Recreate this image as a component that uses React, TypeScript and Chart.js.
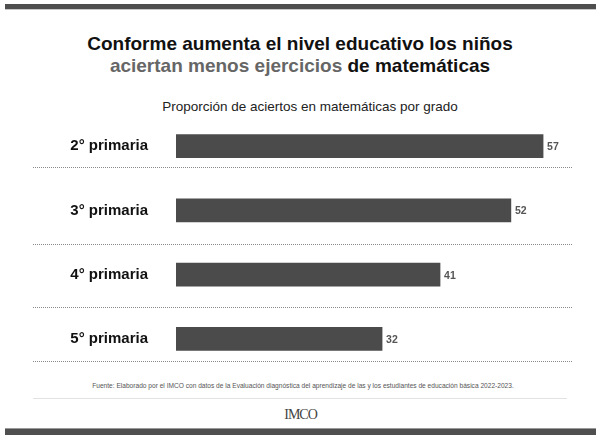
import React, { useEffect, useRef } from "react";
import { Chart, registerables } from "chart.js";

Chart.register(...registerables);

const categories: string[] = ["2° primaria", "3° primaria", "4° primaria", "5° primaria"];
const values: number[] = [57, 52, 41, 32];
const xMax = 60;

const SANS = "'Liberation Sans', Arial, Helvetica, sans-serif";

const separatorPlugin = {
  id: "separators",
  afterDatasetsDraw(chart: any) {
    const { ctx } = chart;
    const y = chart.scales.y;
    const step = y.getPixelForValue(1) - y.getPixelForValue(0);
    const frac = [0.32, 0.52, 0.51, 0.34];
    ctx.save();
    ctx.strokeStyle = "#8a8a8a";
    ctx.lineWidth = 1;
    ctx.setLineDash([1, 1]);
    categories.forEach((_, i) => {
      const py = Math.round(y.getPixelForValue(i) + frac[i] * step) + 0.5;
      ctx.beginPath();
      ctx.moveTo(33, py);
      ctx.lineTo(572, py);
      ctx.stroke();
    });
    ctx.restore();
  },
};

const valueLabelPlugin = {
  id: "valueLabels",
  afterDatasetsDraw(chart: any) {
    const { ctx } = chart;
    const meta = chart.getDatasetMeta(0);
    ctx.save();
    ctx.font = `bold 10.5px ${SANS}`;
    ctx.fillStyle = "#555555";
    ctx.textAlign = "left";
    ctx.textBaseline = "middle";
    meta.data.forEach((bar: any, i: number) => {
      ctx.fillText(String(values[i]), bar.x + 4, bar.y + 1);
    });
    ctx.restore();
  },
};

function BarChart() {
  const ref = useRef<HTMLCanvasElement | null>(null);
  useEffect(() => {
    if (!ref.current) return;
    const chart = new Chart(ref.current, {
      type: "bar",
      data: {
        labels: categories,
        datasets: [
          {
            data: values,
            backgroundColor: "#4b4b4b",
            barThickness: 23,
            borderWidth: 0,
          },
        ],
      },
      options: {
        indexAxis: "y",
        animation: false,
        responsive: true,
        maintainAspectRatio: false,
        devicePixelRatio: 1,
        layout: { padding: { top: 4, bottom: 9, left: 0, right: 38.6 } },
        plugins: {
          legend: { display: false },
          title: { display: false },
          tooltip: { enabled: false },
        },
        scales: {
          x: {
            display: false,
            min: 0,
            max: xMax,
          },
          y: {
            grid: { display: false, drawTicks: false },
            border: { display: false },
            ticks: {
              padding: 28,
              color: "#111111",
              font: { family: SANS, size: 15, weight: "bold" },
            },
            afterFit(scale: any) {
              scale.width = 176;
              scale.paddingTop = 0;
              scale.paddingBottom = 0;
            },
          },
        },
      },
      plugins: [separatorPlugin, valueLabelPlugin],
    });
    return () => chart.destroy();
  }, []);
  return (
    <div style={{ position: "relative", width: 601, height: 270 }}>
      <canvas ref={ref} />
    </div>
  );
}

export default function App() {
  return (
    <div
      style={{
        position: "fixed",
        left: 0,
        top: 0,
        width: 601,
        height: 441,
        background: "#ffffff",
        overflow: "hidden",
        fontFamily: SANS,
      }}
    >
      <div
        style={{
          position: "absolute",
          left: 5,
          top: 4,
          width: 591,
          height: 5,
          background: "#4f4f4f",
          borderBottom: "1px solid #c8c8c8",
        }}
      />
      <div
        style={{
          position: "absolute",
          left: 0,
          top: 33,
          width: 600,
          textAlign: "center",
          fontWeight: "bold",
          fontSize: 19,
          lineHeight: "22px",
          color: "#111111",
          whiteSpace: "nowrap",
        }}
      >
        <div>Conforme aumenta el nivel educativo los niños</div>
        <div>
          <span style={{ color: "#666666" }}>aciertan menos ejercicios</span> de matemáticas
        </div>
      </div>
      <div
        style={{
          position: "absolute",
          left: 160,
          top: 99,
          width: 300,
          textAlign: "center",
          fontSize: 13.5,
          lineHeight: "16px",
          color: "#222222",
          whiteSpace: "nowrap",
        }}
      >
        Proporción de aciertos en matemáticas por grado
      </div>
      <div style={{ position: "absolute", left: 0, top: 110, width: 601, height: 270 }}>
        <BarChart />
      </div>
      <div
        style={{
          position: "absolute",
          left: 3,
          top: 381,
          width: 600,
          textAlign: "center",
          fontFamily: "'Liberation Sans Narrow', 'Arial Narrow', " + SANS,
          fontSize: 6.6,
          lineHeight: "10px",
          color: "#555555",
          whiteSpace: "nowrap",
        }}
      >
        Fuente: Elaborado por el IMCO con datos de la Evaluación diagnóstica del aprendizaje de las y los estudiantes de educación básica 2022-2023.
      </div>
      <div
        style={{
          position: "absolute",
          left: 33,
          top: 398,
          width: 534,
          height: 1,
          background: "#e2e2e2",
        }}
      />
      <div
        style={{
          position: "absolute",
          left: 0,
          top: 407,
          width: 601,
          textAlign: "center",
          fontFamily: "'Liberation Serif', 'DejaVu Serif', serif",
          fontSize: 14,
          lineHeight: "16px",
          letterSpacing: "-1px",
          color: "#444444",
        }}
      >
        IMCO
      </div>
      <div
        style={{
          position: "absolute",
          left: 5,
          top: 428,
          width: 591,
          height: 6,
          background: "#4f4f4f",
          borderTop: "1px solid #9a9a9a",
        }}
      />
    </div>
  );
}
